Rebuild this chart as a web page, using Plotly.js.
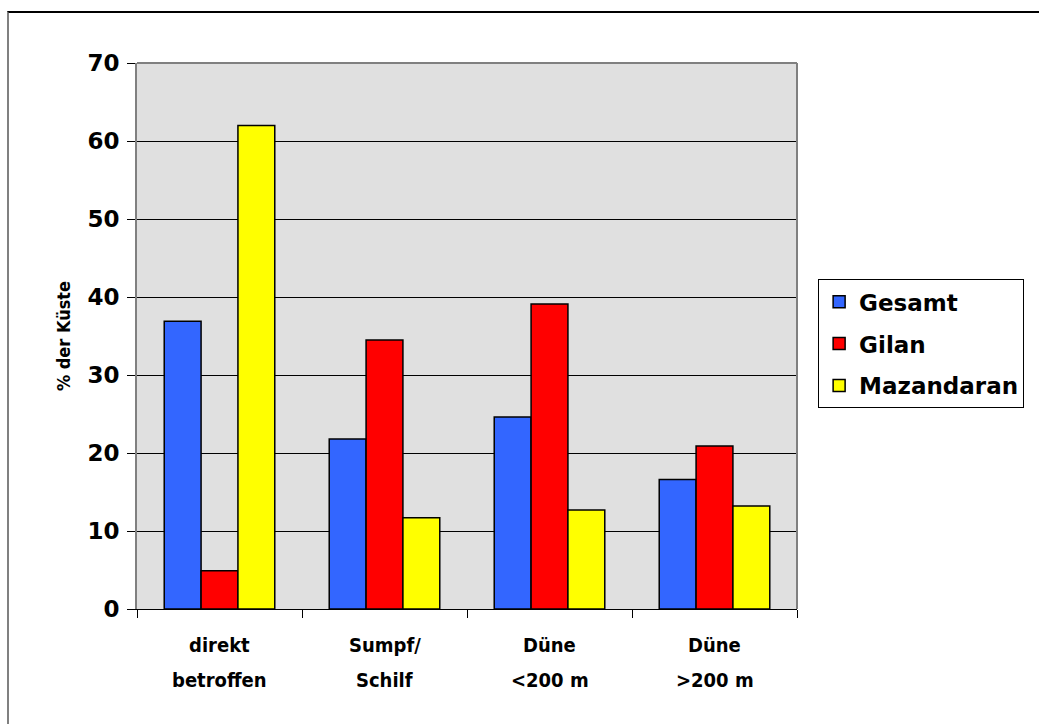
<!DOCTYPE html>
<html>
<head>
<meta charset="utf-8">
<script src="https://cdn.plot.ly/plotly-3.0.1.min.js"></script>
<style>
  html, body { margin: 0; padding: 0; background: #ffffff; }
  #wrap { position: relative; width: 1039px; height: 724px; overflow: hidden; }
  #chart { position: absolute; left: 0; top: 0; width: 1039px; height: 724px; }
  #frame { position: absolute; left: 7px; top: 11px; width: 1200px; height: 900px;
           border-top: 2px solid #000000; border-left: 2px solid #808080; pointer-events: none; }
</style>
</head>
<body>
<div id="wrap">
  <div id="chart"></div>
  <div id="frame"></div>
</div>
<script>
// Coastal types and the share of coastline per region (%)
const categories = ['direkt betroffen', 'Sumpf/ Schilf', 'Düne <200 m', 'Düne >200 m'];
const labelLine1 = ['direkt', 'Sumpf/', 'Düne', 'Düne'];
const labelLine2 = ['betroffen', 'Schilf', '<200 m', '>200 m'];

const gesamt     = [36.9, 21.8, 24.6, 16.6];
const gilan      = [4.9, 34.5, 39.1, 20.9];
const mazandaran = [62.0, 11.7, 12.7, 13.2];

const yTicks = [0, 10, 20, 30, 40, 50, 60, 70];

const WIDE = '"DejaVu Sans", Verdana, sans-serif';
const NARROW = '"Liberation Sans Narrow", "Arial Narrow", "DejaVu Sans Condensed", sans-serif';

function barTrace(name, values, color) {
  return {
    type: 'bar',
    name: name,
    legendgroup: name,
    x: categories,
    y: values,
    marker: { color: color, line: { color: '#000000', width: 1.5 } },
    hoverinfo: 'skip'
  };
}

const traces = [
  barTrace('Gesamt', gesamt, '#3366FF'),
  barTrace('Gilan', gilan, '#FF0000'),
  barTrace('Mazandaran', mazandaran, '#FFFF00')
];

// Two-line category labels beneath the axis
const annotations = [];
categories.forEach((c, i) => {
  [labelLine1[i], labelLine2[i]].forEach((line, k) => {
    annotations.push({
      x: c, y: 0, xref: 'x', yref: 'y', yanchor: 'middle', showarrow: false,
      text: line, yshift: k === 0 ? -36 : -71,
      font: { family: NARROW, size: 20, color: '#000000', weight: 700 }
    });
  });
});

const layout = {
  width: 1039,
  height: 724,
  margin: { l: 137, r: 242, t: 63, b: 115, pad: 0 },
  paper_bgcolor: 'rgba(0,0,0,0)',
  plot_bgcolor: '#E0E0E0',
  barmode: 'group',
  bargap: 0.33,
  bargroupgap: 0,
  showlegend: true,
  legend: {
    x: 1.032, xanchor: 'left', y: 0.604, yanchor: 'top',
    bgcolor: '#ffffff', bordercolor: '#000000', borderwidth: 1,
    font: { family: WIDE, size: 23, color: '#000000', weight: 700 },
    tracegroupgap: 9, itemwidth: 30
  },
  xaxis: {
    type: 'category',
    showticklabels: false,
    tickson: 'boundaries',
    ticks: 'outside', ticklen: 8, tickcolor: '#000000', tickwidth: 1,
    showline: true, linecolor: '#000000', linewidth: 1,
    showgrid: false, zeroline: false,
    fixedrange: true
  },
  yaxis: {
    range: [0, 70],
    tickvals: yTicks,
    ticktext: yTicks.map(String),
    ticks: 'outside', ticklen: 8, tickcolor: '#000000', tickwidth: 1,
    tickfont: { family: WIDE, size: 23, color: '#000000', weight: 700 },
    ticklabelstandoff: 3,
    showline: true, linecolor: '#808080', linewidth: 2,
    showgrid: true, gridcolor: '#000000', gridwidth: 1,
    zeroline: false,
    title: {
      text: '% der Küste',
      font: { family: NARROW, size: 18, color: '#000000', weight: 700 },
      standoff: 12
    },
    fixedrange: true
  },
  annotations: annotations,
  shapes: [
    // gray frame on the top and right of the plot area
    { type: 'line', xref: 'paper', yref: 'paper', x0: 0, x1: 1, y0: 1, y1: 1,
      line: { color: '#808080', width: 2 } },
    { type: 'line', xref: 'paper', yref: 'paper', x0: 1, x1: 1, y0: 0, y1: 1,
      line: { color: '#808080', width: 2 } }
  ]
};

Plotly.newPlot('chart', traces, layout, { displayModeBar: false, staticPlot: true });
</script>
</body>
</html>
